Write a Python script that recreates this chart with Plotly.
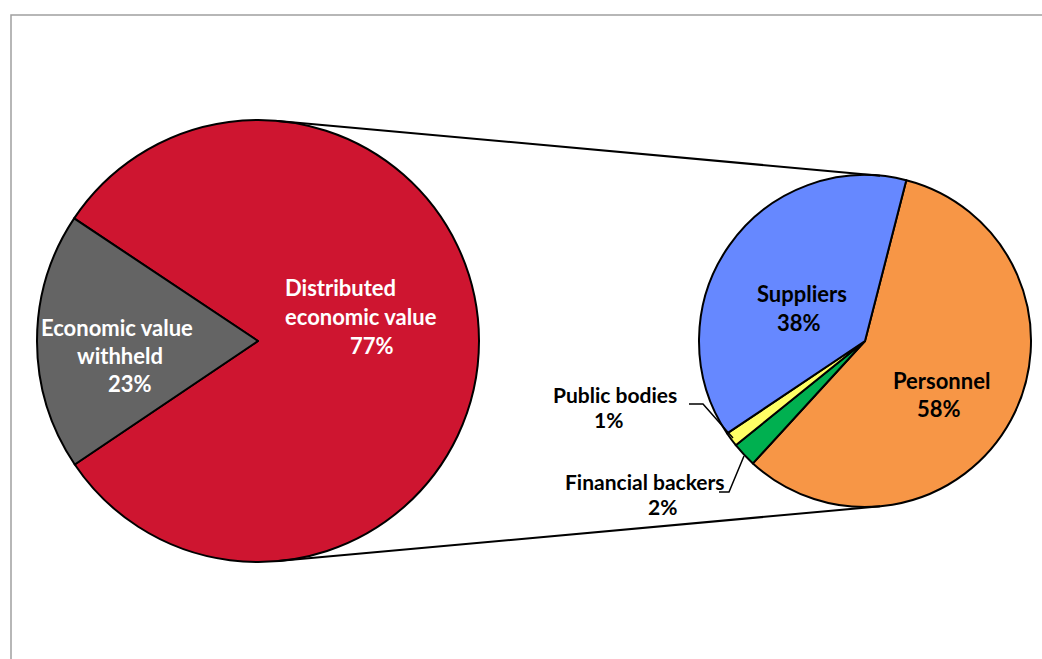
import math
import plotly.graph_objects as go

W, H = 1042, 659

# ---- data ----
left_label_lines = [["Distributed", "economic value"], ["Economic value", "withheld"]]
left_labels = [" ".join(l) for l in left_label_lines]
left_values = [81.2, 18.8]          # slice shares as drawn
left_pct_text = ["77%", "23%"]      # data labels as printed
left_colors = ["#CE1530", "#646464"]

right_label_lines = [["Personnel"], ["Financial backers"], ["Public bodies"], ["Suppliers"]]
right_labels = [" ".join(l) for l in right_label_lines]
right_values = [57.8, 2.4, 1.4, 38.4]
right_pct_text = ["58%", "2%", "1%", "38%"]
right_colors = ["#F79646", "#00B050", "#FFFF66", "#6688FF"]

# ---- geometry (pixels) ----
L_CX, L_CY, L_R = 258, 341, 221
R_CX, R_CY, R_R = 865, 341, 166
L_ROT = -56.3
R_ROT = 14.4


def domain(cx, cy, r):
    return dict(x=[(cx - r) / W, (cx + r) / W], y=[1 - (cy + r) / H, 1 - (cy - r) / H])


fig = go.Figure()
fig.add_trace(go.Pie(
    labels=left_labels, values=left_values, text=left_pct_text,
    marker=dict(colors=left_colors, line=dict(color="black", width=2)),
    sort=False, direction="clockwise", rotation=L_ROT,
    textinfo="none", hoverinfo="label+text", showlegend=False,
    domain=domain(L_CX, L_CY, L_R),
))
fig.add_trace(go.Pie(
    labels=right_labels, values=right_values, text=right_pct_text,
    marker=dict(colors=right_colors, line=dict(color="black", width=2)),
    sort=False, direction="clockwise", rotation=R_ROT,
    textinfo="none", hoverinfo="label+text", showlegend=False,
    domain=domain(R_CX, R_CY, R_R),
))

# ---- connector lines: external tangents of the two pies ----
phi = math.asin((L_R - R_R) / (R_CX - L_CX))
shapes = []
for sgn in (-1, 1):
    x0 = L_CX + L_R * math.sin(phi)
    y0 = L_CY + sgn * L_R * math.cos(phi)
    x1 = R_CX + R_R * math.sin(phi)
    y1 = R_CY + sgn * R_R * math.cos(phi)
    shapes.append(dict(type="line", xref="x", yref="y", x0=x0, y0=y0, x1=x1, y1=y1,
                       line=dict(color="black", width=2)))

# frame
shapes.append(dict(type="rect", xref="x", yref="y", x0=11, y0=15, x1=1060, y1=680,
                   line=dict(color="#A0A0A0", width=1.5), layer="below"))

# leader lines for small slices
shapes.append(dict(type="path", xref="x", yref="y", path="M689,404 L703,404 L733,438",
                   line=dict(color="black", width=1.5)))
shapes.append(dict(type="path", xref="x", yref="y", path="M719,492 L729,492 L744,456",
                   line=dict(color="black", width=1.5)))

# ---- data labels (one annotation per line) ----
label_pos = {
    "Distributed economic value": [(340, 287), (361, 316), (372, 345)],
    "Economic value withheld": [(117, 327), (120, 355), (130, 383)],
    "Personnel": [(941, 380), (939, 408)],
    "Financial backers": [(645, 481), (662, 506)],
    "Public bodies": [(615, 394), (608, 419)],
    "Suppliers": [(802, 293), (799, 322)],
}
label_size = {"Financial backers": 21, "Public bodies": 21}
text_color = {
    "Distributed economic value": "white",
    "Economic value withheld": "white",
}

annotations = []
for lines, lab, pct in list(zip(left_label_lines, left_labels, left_pct_text)) + \
        list(zip(right_label_lines, right_labels, right_pct_text)):
    for txt, (px, py) in zip(lines + [pct], label_pos[lab]):
        annotations.append(dict(
            x=px, y=py, xref="x", yref="y", text=txt, showarrow=False,
            xanchor="center", yanchor="middle",
            font=dict(family="Lato", size=label_size.get(lab, 22), weight="bold",
                      color=text_color.get(lab, "black")),
        ))

fig.update_layout(
    width=W, height=H,
    margin=dict(l=0, r=0, t=0, b=0),
    paper_bgcolor="white", plot_bgcolor="rgba(0,0,0,0)",
    xaxis=dict(range=[0, W], visible=False, fixedrange=True),
    yaxis=dict(range=[H, 0], visible=False, fixedrange=True),
    shapes=shapes, annotations=annotations,
    showlegend=False,
)

fig.write_html(
    "out.html",
    config={"displayModeBar": False},
    post_script="document.body.style.margin='0px';document.body.style.overflow='hidden';",
)
